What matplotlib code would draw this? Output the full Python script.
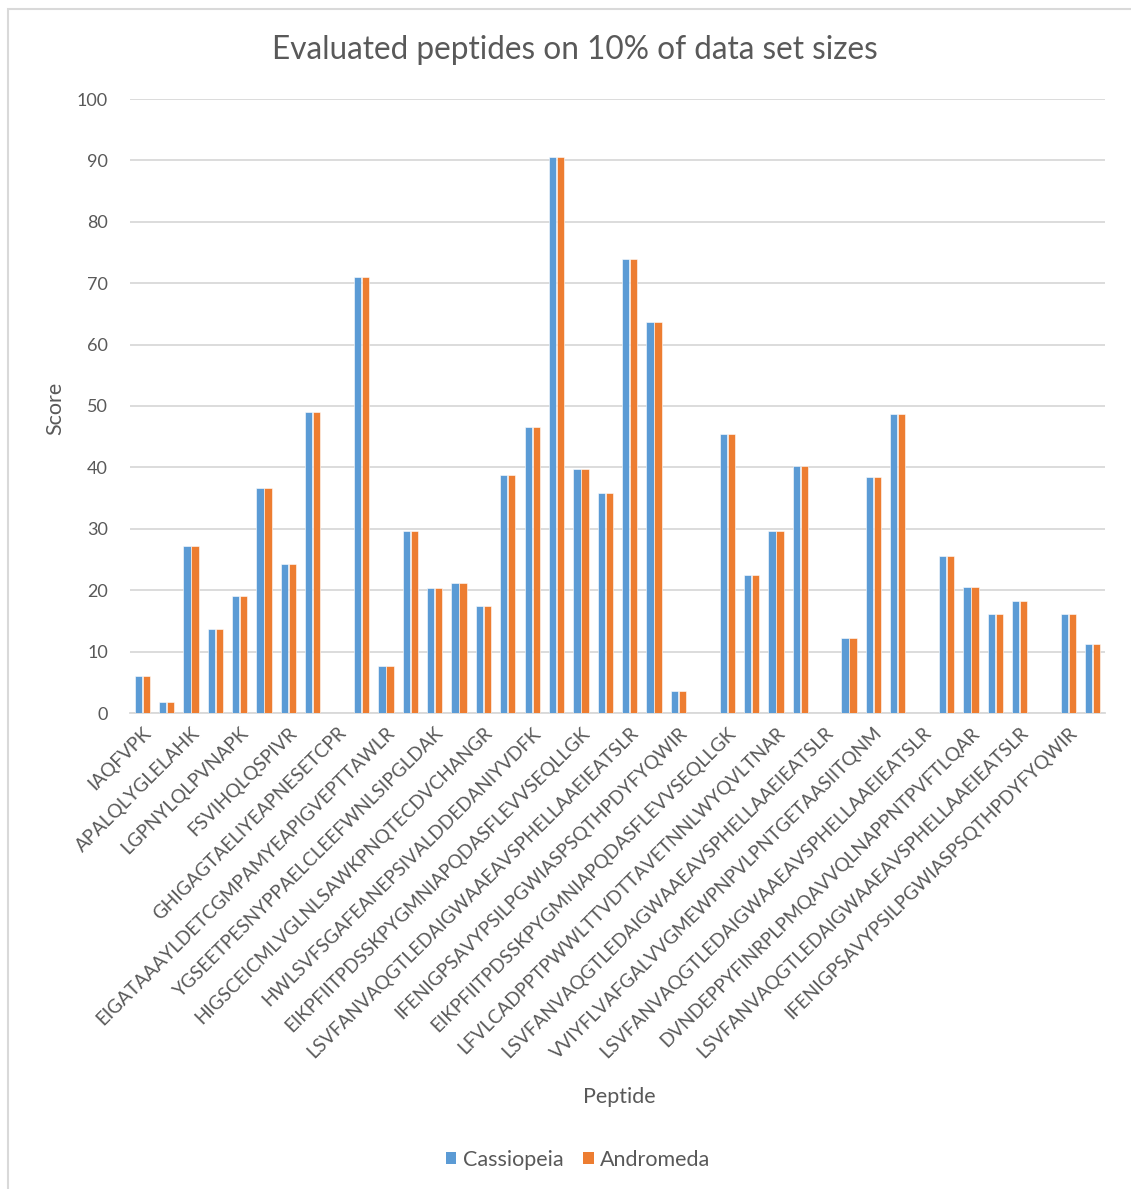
import numpy as np
import matplotlib
matplotlib.use("Agg")
import matplotlib.pyplot as plt
from matplotlib.patches import Rectangle, Patch

plt.rcParams["font.family"] = ["Lato", "DejaVu Sans"]

# Peptide names shown on the category axis (every second category is labelled)
peptides = [
    "IAQFVPK",
    "APALQLYGLELAHK",
    "LGPNYLQLPVNAPK",
    "FSVIHQLQSPIVR",
    "GHIGAGTAELIYEAPNESETCPR",
    "EIGATAAAYLDETCGMPAMYEAPIGVEPTTAWLR",
    "YGSEETPESNYPPAELCLEEFWNLSIPGLDAK",
    "HIGSCEICMLVGLNLSAWKPNQTECDVCHANGR",
    "HWLSVFSGAFEANEPSIVALDDEDANIYVDFK",
    "EIKPFIITPDSSKPYGMNIAPQDASFLEVVSEQLLGK",
    "LSVFANVAQGTLEDAIGWAAEAVSPHELLAAEIEATSLR",
    "IFENIGPSAVYPSILPGWIASPSQTHPDYFYQWIR",
    "EIKPFIITPDSSKPYGMNIAPQDASFLEVVSEQLLGK",
    "LFVLCADPPTPWWLTTVDTTAVETNNLWYQVLTNAR",
    "LSVFANVAQGTLEDAIGWAAEAVSPHELLAAEIEATSLR",
    "VVIYFLVAFGALVVGMEWPNPVLPNTGETAASIITQNM",
    "LSVFANVAQGTLEDAIGWAAEAVSPHELLAAEIEATSLR",
    "DVNDEPPYFINRPLPMQAVVQLNAPPNTPVFTLQAR",
    "LSVFANVAQGTLEDAIGWAAEAVSPHELLAAEIEATSLR",
    "IFENIGPSAVYPSILPGWIASPSQTHPDYFYQWIR",
]

nan = np.nan
# Scores per category (40 categories, NaN = no bar)
cassiopeia = [6.0, 1.8, 27.2, 13.7, 19.1, 36.7, 24.2, 49.0, nan, 71.0,
              7.7, 29.6, 20.3, 21.2, 17.5, 38.8, 46.6, 90.5, 39.7, 35.8,
              74.0, 63.6, 3.6, nan, 45.4, 22.4, 29.6, 40.3, nan, 12.2,
              38.5, 48.7, nan, 25.6, 20.6, 16.1, 18.2, nan, 16.1, 11.3]
andromeda = [6.0, 1.8, 27.2, 13.7, 19.1, 36.7, 24.2, 49.0, nan, 71.0,
             7.7, 29.6, 20.3, 21.2, 17.5, 38.8, 46.6, 90.5, 39.7, 35.8,
             74.0, 63.6, 3.6, nan, 45.4, 22.4, 29.6, 40.3, nan, 12.2,
             38.5, 48.7, nan, 25.6, 20.6, 16.1, 18.2, nan, 16.1, 11.3]
series_names = ["Cassiopeia", "Andromeda"]
yticks = [0, 10, 20, 30, 40, 50, 60, 70, 80, 90, 100]

BLUE = "#5B9BD5"
ORANGE = "#ED7D31"
TEXT = "#595959"
GRID = "#D9D9D9"

W, H = 1131, 1189
fig = plt.figure(figsize=(W / 100, H / 100), dpi=100)
ax = fig.add_axes([130 / W, 1 - 713 / H, 975 / W, 614 / H])

x = np.arange(len(cassiopeia))
bw = 0.30
ax.bar(x - 0.165, cassiopeia, width=bw, color=BLUE, edgecolor="white",
       linewidth=0.4, zorder=3)
ax.bar(x + 0.165, andromeda, width=bw, color=ORANGE, edgecolor="white",
       linewidth=0.4, zorder=3)

ax.set_xlim(-0.5, len(cassiopeia) - 0.5)
ax.set_ylim(0, 100)
ax.set_yticks(yticks)
ax.yaxis.grid(True, color=GRID, linewidth=1.3, zorder=0)
ax.set_axisbelow(True)
for side in ("top", "right", "left"):
    ax.spines[side].set_visible(False)
ax.spines["bottom"].set_color(GRID)
ax.spines["bottom"].set_linewidth(1.3)
ax.tick_params(axis="both", length=0, colors=TEXT)
ax.tick_params(axis="y", pad=16, labelsize=13)

label_pos = x[::2]
ax.set_xticks(label_pos)
ax.set_xticklabels(peptides, rotation=45, ha="right", va="top",
                   rotation_mode="anchor", fontsize=13.6, color=TEXT)
ax.tick_params(axis="x", pad=8)

fig.text(575 / W, 1 - 50 / H, "Evaluated peptides on 10% of data set sizes",
         ha="center", va="center", fontsize=22.7, color=TEXT)
fig.text(55 / W, 1 - 408 / H, "Score", rotation=90, ha="center",
         va="center", fontsize=15.5, color=TEXT)
fig.text(619 / W, 1 - 1097 / H, "Peptide", ha="center", va="center",
         fontsize=15.5, color=TEXT)

handles = [Patch(facecolor=BLUE, edgecolor="none"),
           Patch(facecolor=ORANGE, edgecolor="none")]
fig.legend(handles, series_names, loc="center",
           bbox_to_anchor=(578 / W, 1 - 1160 / H), ncol=2, frameon=False,
           handlelength=0.5, handleheight=0.5, handletextpad=0.3,
           columnspacing=0.9, fontsize=15.5, labelcolor=TEXT)

# chart-area border
fig.patches.append(Rectangle((8 / W, -0.1), 1.2, 1 - 9 / H + 0.1,
                             transform=fig.transFigure, fill=False,
                             edgecolor=GRID, linewidth=1.5))

fig.savefig("out.png", dpi=100, facecolor="white")
